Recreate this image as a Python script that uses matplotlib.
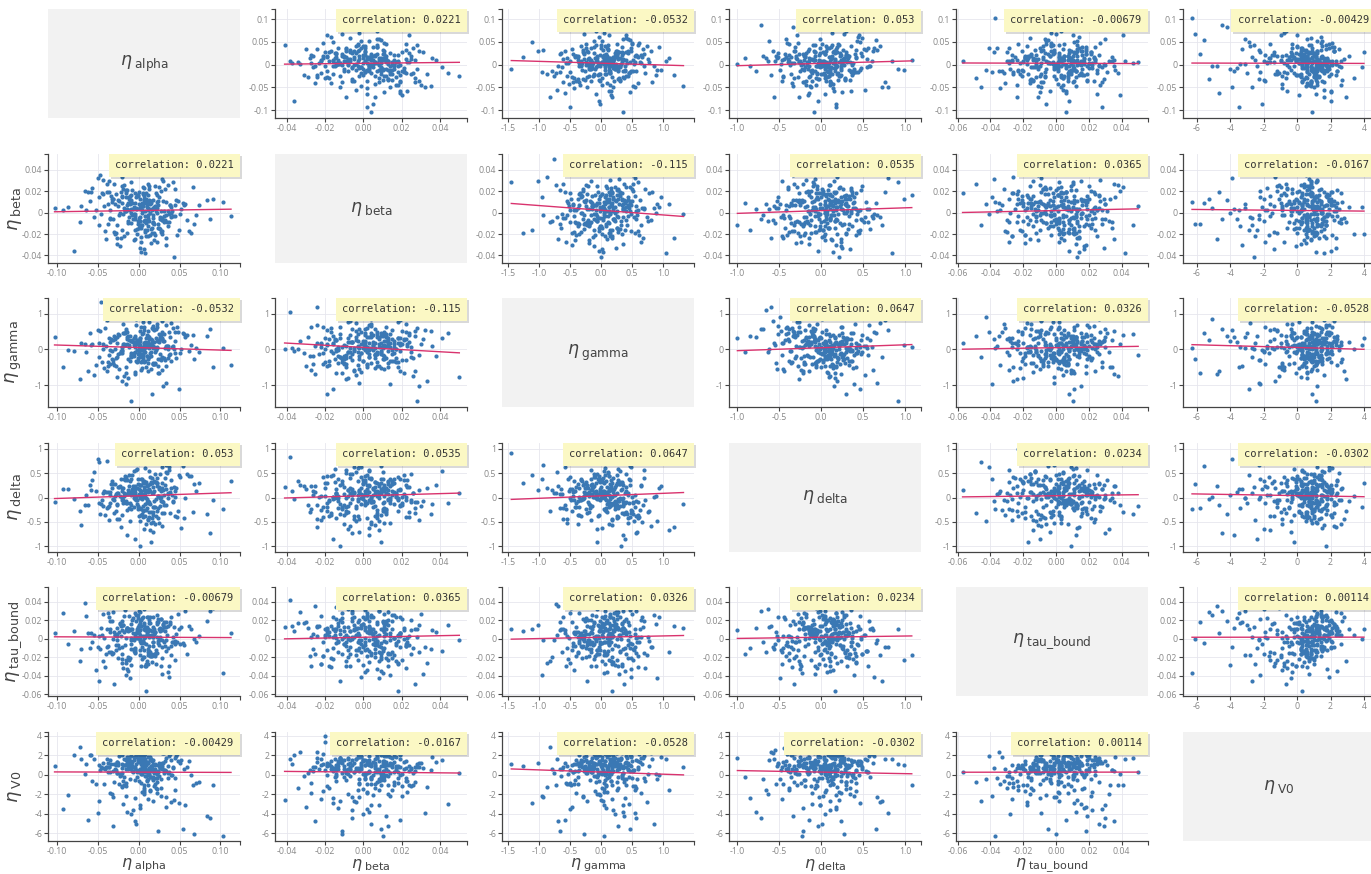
import numpy as np
import matplotlib
matplotlib.use("Agg")
import matplotlib.pyplot as plt
import matplotlib.patheffects as pe

plt.rcParams["font.family"] = ["Open Sans", "DejaVu Sans"]
plt.rcParams["mathtext.fontset"] = "dejavusans"

names = ["alpha", "beta", "gamma", "delta", "tau_bound", "V0"]

eta_alpha = [
    0.012, -0.031, 0.004, 0.047, -0.008, 0.021, -0.055, 0.002, 0.036, -0.017, 0.009, -0.042, 0.028, 0.061, -0.003, 0.015, -0.024, 0.033, -0.066, 0.007,
    -0.011, 0.019, 0.052, -0.037, 0.001, -0.019, 0.026, 0.083, -0.005, 0.014, -0.048, 0.039, -0.027, 0.006, 0.022, -0.072, 0.011, -0.002, 0.044, -0.014,
    0.031, -0.009, 0.003, -0.058, 0.017, 0.068, -0.021, 0.008, -0.035, 0.025, 0.000, -0.013, 0.049, -0.044, 0.018, 0.005, -0.029, 0.091, -0.006, 0.013,
    -0.086, 0.024, -0.016, 0.037, 0.010, -0.040, 0.057, -0.001, 0.029, -0.023, 0.016, -0.062, 0.004, 0.041, -0.010, 0.027, -0.033, 0.002, 0.074, -0.018,
    0.006, -0.052, 0.035, 0.013, -0.004, 0.020, -0.026, 0.045, -0.012, 0.003, 0.054, -0.038, 0.009, -0.079, 0.023, 0.015, -0.007, 0.032, -0.046, 0.011,
    0.001, 0.038, -0.020, 0.064, -0.015, 0.007, -0.034, 0.019, 0.103, -0.003, 0.026, -0.057, 0.012, -0.025, 0.043, 0.005, -0.039, 0.017, -0.009, 0.030,
    -0.103, 0.014, 0.048, -0.028, 0.008, -0.011, 0.034, -0.049, 0.021, 0.002, -0.018, 0.059, -0.006, 0.027, -0.041, 0.010, 0.070, -0.022, 0.004, -0.032,
    0.018, -0.002, 0.040, -0.064, 0.013, 0.025, -0.014, 0.006, -0.045, 0.033, 0.087, -0.010, 0.016, -0.030, 0.001, 0.051, -0.019, 0.009, -0.071, 0.022,
    -0.005, 0.029, -0.036, 0.011, 0.046, -0.023, 0.003, 0.066, -0.013, 0.019, -0.050, 0.008, 0.036, -0.001, -0.027, 0.014, 0.113, -0.044, 0.024, -0.008,
    0.010, -0.060, 0.020, 0.003, -0.016, 0.042, -0.035, 0.015, 0.028, -0.093, 0.005, 0.037, -0.021, 0.012, 0.056, -0.004, -0.012, 0.031, 0.000, -0.047,
    0.004, -0.012, 0.019, -0.003, 0.027, -0.021, 0.008, 0.001, -0.015, 0.032, -0.006, 0.013, -0.028, 0.002, 0.022, -0.009, 0.016, -0.035, 0.006, 0.011,
    -0.001, 0.024, -0.018, 0.009, 0.038, -0.004, -0.024, 0.014, 0.003, -0.011, 0.020, -0.032, 0.007, 0.029, -0.007, 0.000, 0.017, -0.014, 0.042, -0.020,
    0.012, -0.026, 0.005, 0.021, -0.002, -0.017, 0.030, 0.008, -0.039, 0.015, 0.002, -0.008, 0.025, -0.013, 0.010, 0.034, -0.022, 0.004, -0.005, 0.018,
    -0.030, 0.007, 0.026, -0.010, 0.013, -0.001, 0.045, -0.019, 0.003, 0.016, -0.033, 0.010, -0.006, 0.023, 0.001, -0.016, 0.008, 0.036, -0.025, 0.005,
    0.014, -0.004, -0.029, 0.020, 0.006, -0.012, 0.031, 0.000, -0.021, 0.011, 0.040, -0.009, 0.017, -0.036, 0.003, 0.024, -0.014, 0.009, -0.002, 0.028,
]

eta_beta = [
    -0.007, 0.013, 0.002, -0.021, 0.009, 0.018, -0.004, -0.013, 0.026, 0.001, -0.010, 0.006, 0.031, -0.017, 0.004, -0.028, 0.011, -0.002, 0.020, -0.008,
    0.015, -0.019, 0.003, 0.008, -0.033, 0.022, -0.006, 0.012, -0.001, 0.036, -0.012, 0.005, -0.024, 0.017, 0.000, -0.009, 0.027, -0.015, 0.007, 0.003,
    -0.003, 0.010, -0.027, 0.019, 0.004, -0.011, 0.014, -0.038, 0.002, 0.024, -0.005, 0.009, -0.016, 0.030, -0.002, 0.006, -0.020, 0.013, 0.041, -0.008,
    0.005, -0.014, 0.021, -0.001, 0.011, -0.025, 0.008, 0.016, -0.007, -0.031, 0.003, 0.019, -0.012, 0.001, 0.028, -0.018, 0.010, -0.004, 0.007, -0.022,
    0.012, 0.002, -0.009, 0.025, -0.016, 0.006, 0.050, -0.003, 0.014, -0.023, 0.009, -0.011, 0.018, -0.036, 0.004, 0.011, -0.006, 0.022, -0.001, 0.016,
    -0.013, 0.007, 0.033, -0.019, 0.001, -0.008, 0.015, -0.026, 0.010, 0.003, -0.015, 0.023, -0.005, 0.012, -0.041, 0.006, 0.019, -0.010, 0.000, 0.029,
    0.004, -0.021, 0.011, 0.017, -0.003, 0.008, -0.030, 0.014, 0.001, -0.012, 0.026, -0.007, 0.005, 0.020, -0.017, 0.038, -0.002, -0.024, 0.009, 0.013,
    -0.010, 0.016, -0.004, 0.002, 0.022, -0.014, 0.007, -0.034, 0.018, 0.010, -0.006, 0.003, -0.019, 0.027, 0.013, -0.001, 0.044, -0.009, 0.006, -0.027,
    0.009, -0.005, 0.019, -0.022, 0.012, 0.000, -0.013, 0.024, -0.008, 0.005, 0.032, -0.018, 0.001, 0.015, -0.029, 0.008, -0.003, 0.017, -0.011, 0.021,
    -0.016, 0.011, 0.004, -0.037, 0.014, 0.028, -0.006, 0.009, -0.020, 0.002, 0.018, -0.009, 0.025, -0.002, 0.007, -0.025, 0.013, 0.001, -0.014, 0.035,
    0.006, -0.004, -0.011, 0.014, 0.001, 0.009, -0.016, 0.003, 0.020, -0.007, -0.001, 0.012, -0.019, 0.005, 0.016, -0.010, 0.002, -0.005, 0.023, -0.013,
    -0.008, 0.011, 0.004, -0.022, 0.007, 0.018, -0.002, 0.000, -0.014, 0.010, 0.025, -0.006, 0.013, -0.017, 0.003, 0.008, -0.009, 0.021, -0.003, 0.015,
    0.002, -0.012, 0.017, 0.006, -0.020, 0.001, 0.011, -0.007, 0.027, -0.015, 0.004, -0.002, 0.014, -0.010, 0.008, -0.024, 0.019, 0.000, -0.006, 0.012,
    -0.018, 0.009, -0.004, 0.016, 0.003, -0.011, 0.022, -0.001, 0.007, -0.014, 0.013, 0.005, -0.026, 0.010, -0.008, 0.018, 0.001, -0.013, 0.006, 0.024,
    0.011, -0.003, 0.008, -0.021, 0.015, 0.002, -0.009, 0.019, -0.016, 0.004, 0.000, 0.012, -0.005, 0.029, -0.012, 0.007, -0.019, 0.013, 0.003, -0.007,
]

eta_gamma = [
    0.21, -0.38, 0.05, 0.62, -0.14, 0.33, -0.71, 0.08, -0.25, 0.47, 0.12, -0.52, 0.29, -0.03, 0.86, -0.19, 0.40, -0.94, 0.16, -0.07,
    -0.31, 0.55, 0.02, -0.45, 0.24, 0.71, -0.12, 0.37, -0.63, 0.10, -0.22, 0.93, 0.18, -0.36, 0.04, -0.83, 0.51, 0.27, -0.09, 0.35,
    0.44, -0.16, -0.57, 0.13, 0.66, -0.28, 0.07, 1.05, -0.41, 0.22, -0.05, 0.38, -1.12, 0.15, 0.58, -0.24, 0.01, -0.48, 0.31, 0.76,
    -0.02, 0.26, -0.67, 0.49, -0.18, 0.09, 0.35, -0.33, 0.80, -0.11, 0.19, -0.59, 0.42, 0.06, -1.45, 0.28, -0.26, 0.53, -0.08, 0.14,
    0.63, -0.44, 0.11, -0.21, 0.39, 0.03, -0.76, 0.25, 0.97, -0.13, 0.46, -0.35, 0.17, -0.04, 0.70, -0.55, 0.20, -0.29, 1.33, 0.08,
    -0.19, 0.34, -0.88, 0.12, 0.57, -0.06, 0.30, -0.42, 0.04, 0.69, -0.27, 0.16, -0.61, 0.43, 0.00, -0.15, 0.82, -0.37, 0.23, -1.02,
    0.36, -0.10, 0.50, -0.23, 0.07, 0.91, -0.47, 0.19, -0.01, 0.32, -0.73, 0.41, 0.13, -0.30, 0.60, -0.17, 0.05, 1.18, -0.53, 0.27,
    -0.40, 0.15, 0.74, -0.08, 0.28, -0.65, 0.48, 0.02, -0.34, 0.11, 0.56, -0.20, -1.26, 0.37, 0.09, -0.11, 0.45, -0.50, 0.18, 0.64,
    0.06, -0.58, 0.31, 0.17, -0.24, 0.89, -0.02, 0.40, -0.79, 0.22, 0.54, -0.32, 0.10, -0.14, 0.35, 1.10, -0.43, 0.01, -0.66, 0.26,
    0.14, 0.47, -0.37, 0.03, -0.96, 0.59, 0.21, -0.07, 0.33, -0.50, 0.78, -0.16, 0.08, -0.28, 0.44, -0.69, 0.12, 0.25, -0.04, 0.52,
    -0.15, 0.27, 0.08, -0.33, 0.41, -0.04, 0.18, -0.22, 0.52, 0.03, -0.09, 0.34, -0.47, 0.12, 0.25, -0.18, 0.60, -0.01, 0.09, -0.38,
    0.22, -0.27, 0.45, 0.06, -0.12, 0.31, -0.55, 0.15, 0.02, 0.38, -0.06, -0.29, 0.19, 0.49, -0.14, 0.07, -0.42, 0.28, 0.11, -0.02,
    0.35, -0.20, 0.01, 0.57, -0.35, 0.13, 0.24, -0.08, -0.61, 0.30, 0.05, -0.17, 0.43, -0.26, 0.16, 0.68, -0.05, -0.31, 0.21, 0.10,
    -0.44, 0.17, 0.36, -0.10, 0.04, -0.24, 0.50, 0.14, -0.36, 0.26, -0.03, 0.40, -0.19, 0.08, 0.32, -0.50, 0.20, 0.00, -0.13, 0.46,
    0.12, -0.07, 0.29, -0.40, 0.55, 0.07, -0.23, 0.18, -0.11, 0.37, -0.32, 0.23, 0.03, -0.16, 0.64, -0.46, 0.15, 0.33, -0.01, -0.21,
]

eta_delta = [
    -0.12, 0.28, 0.05, -0.41, 0.17, -0.03, 0.52, -0.22, 0.09, 0.36, -0.55, 0.14, -0.08, 0.44, 0.01, -0.30, 0.21, 0.67, -0.16, 0.03,
    0.33, -0.19, -0.62, 0.11, 0.25, -0.05, 0.48, -0.34, 0.07, -0.14, 0.72, 0.19, -0.45, 0.02, 0.30, -0.27, -0.09, 0.58, 0.13, -0.78,
    0.06, 0.39, -0.24, 0.15, -0.51, 0.27, 0.00, 0.84, -0.11, 0.22, -0.37, 0.10, 0.46, -0.18, -0.70, 0.31, 0.04, -0.06, 0.55, -0.29,
    0.18, -0.43, 0.08, 0.63, -0.21, 0.12, -0.01, 0.37, -0.58, 0.24, 0.41, -0.15, -0.33, 0.06, 0.92, -0.07, 0.20, -0.48, 0.29, 0.03,
    -0.26, 0.14, 0.51, -0.10, -0.85, 0.32, 0.09, -0.39, 0.23, 0.01, 0.65, -0.20, 0.16, -0.04, 0.40, -0.53, 0.11, 0.26, -0.13, 1.08,
    0.04, -0.31, 0.19, 0.45, -0.07, -0.64, 0.28, 0.13, -0.23, 0.57, -0.02, 0.35, -0.44, 0.09, 0.21, -0.17, 0.76, -0.36, 0.05, 0.15,
    -0.09, 0.42, -0.28, 0.07, 0.60, -0.49, 0.18, -0.12, 0.31, -1.00, 0.10, 0.49, -0.19, 0.02, -0.35, 0.26, 0.13, -0.60, 0.38, -0.04,
    0.22, -0.14, 0.70, 0.05, -0.40, 0.17, -0.25, 0.34, -0.06, 0.53, -0.72, 0.11, 0.29, -0.32, 0.08, 0.43, -0.11, 0.00, -0.56, 0.24,
    0.12, 0.62, -0.18, -0.47, 0.20, 0.04, 0.37, -0.29, 0.16, -0.08, 0.80, -0.38, 0.07, 0.27, -0.15, -0.66, 0.33, 0.10, -0.22, 0.47,
    -0.03, 0.25, -0.54, 0.14, 0.39, -0.10, 0.06, -0.91, 0.30, 0.18, -0.27, 0.56, -0.05, 0.12, -0.42, 0.23, 0.99, -0.16, 0.08, -0.34,
    0.08, -0.21, 0.33, -0.05, 0.14, -0.36, 0.02, 0.25, -0.12, 0.41, -0.02, 0.17, -0.28, 0.06, 0.30, -0.16, -0.42, 0.11, 0.21, -0.08,
    -0.17, 0.04, 0.38, -0.25, 0.12, 0.00, -0.45, 0.27, 0.09, -0.11, 0.49, -0.03, 0.16, -0.32, 0.23, 0.05, -0.19, 0.35, -0.07, 0.13,
    0.26, -0.13, 0.03, -0.39, 0.19, 0.44, -0.09, 0.10, -0.22, 0.32, -0.01, 0.15, -0.52, 0.07, 0.24, -0.15, 0.37, -0.04, 0.18, -0.30,
    -0.06, 0.29, -0.18, 0.11, 0.55, -0.24, 0.01, 0.20, -0.35, 0.09, 0.34, -0.10, 0.05, -0.27, 0.16, 0.42, -0.14, -0.01, 0.22, -0.40,
    0.13, -0.04, 0.28, -0.20, 0.06, 0.46, -0.31, 0.18, 0.02, -0.09, 0.36, -0.23, 0.10, -0.47, 0.25, 0.04, -0.12, 0.31, -0.06, 0.19,
]

eta_tau_bound = [
    0.008, -0.015, 0.022, -0.003, 0.011, -0.027, 0.004, 0.017, -0.010, 0.031, -0.006, 0.001, -0.038, 0.014, 0.026, -0.019, 0.007, -0.001, 0.039, -0.012,
    -0.021, 0.005, 0.013, -0.008, 0.029, -0.032, 0.002, 0.019, -0.014, 0.009, -0.046, 0.024, 0.003, -0.005, 0.016, -0.024, 0.035, 0.010, -0.002, 0.012,
    0.018, -0.011, -0.029, 0.006, 0.023, 0.000, -0.017, 0.042, 0.007, -0.007, 0.015, -0.035, 0.011, 0.027, -0.004, -0.020, 0.004, 0.033, -0.013, 0.002,
    -0.006, 0.021, 0.009, -0.041, 0.013, -0.016, 0.030, 0.001, -0.009, 0.017, -0.025, 0.006, 0.047, -0.003, 0.010, -0.030, 0.019, -0.012, 0.003, 0.025,
    0.011, -0.034, 0.004, 0.020, -0.010, 0.007, -0.001, -0.023, 0.036, 0.014, -0.005, 0.028, -0.057, 0.008, -0.015, 0.003, 0.022, -0.008, 0.012, -0.018,
    -0.002, 0.016, -0.026, 0.010, 0.001, 0.032, -0.014, 0.005, -0.037, 0.019, 0.008, -0.004, 0.024, -0.021, 0.013, 0.050, -0.009, 0.002, -0.028, 0.015,
    0.006, -0.019, 0.027, -0.007, 0.012, -0.043, 0.018, 0.003, -0.012, 0.009, 0.038, -0.016, 0.000, 0.021, -0.031, 0.007, -0.003, 0.014, -0.022, 0.029,
    0.013, 0.001, -0.018, 0.025, -0.008, 0.011, -0.033, 0.017, 0.004, -0.013, 0.030, -0.001, 0.008, -0.049, 0.020, -0.006, 0.015, 0.034, -0.011, 0.002,
    -0.015, 0.009, 0.023, -0.027, 0.005, 0.016, -0.004, 0.041, -0.020, 0.010, -0.009, 0.003, -0.036, 0.026, 0.012, -0.014, 0.006, -0.024, 0.018, 0.000,
    0.024, -0.010, 0.007, 0.014, -0.039, 0.002, 0.019, -0.017, 0.011, 0.028, -0.002, -0.029, 0.009, 0.004, -0.007, 0.035, -0.023, 0.013, 0.001, -0.011,
    -0.004, 0.010, -0.017, 0.006, 0.021, -0.009, 0.002, 0.014, -0.023, 0.008, -0.001, 0.017, -0.012, 0.004, 0.026, -0.006, -0.019, 0.011, 0.001, -0.014,
    0.013, -0.002, 0.007, -0.027, 0.018, 0.003, -0.010, 0.023, -0.005, 0.009, -0.016, 0.000, 0.015, -0.021, 0.006, 0.030, -0.008, 0.012, -0.003, 0.019,
    -0.011, 0.005, 0.024, -0.015, 0.002, -0.007, 0.016, -0.030, 0.010, 0.004, -0.018, 0.020, -0.001, 0.008, -0.024, 0.013, 0.003, -0.009, 0.028, -0.004,
    0.007, -0.020, 0.012, 0.001, -0.013, 0.022, -0.006, 0.015, -0.002, 0.034, -0.016, 0.005, -0.011, 0.018, 0.000, -0.026, 0.009, 0.014, -0.007, 0.003,
    0.017, -0.012, 0.004, -0.019, 0.011, 0.025, -0.003, 0.006, -0.022, 0.010, -0.008, 0.016, 0.002, -0.014, 0.020, -0.005, 0.012, -0.029, 0.008, -0.001,
]

eta_V0 = [
    1.2, 0.4, -1.8, 2.1, 0.9, -0.3, 1.6, -3.4, 0.2, 1.0, 2.6, -0.9, 0.7, 1.4, -5.1, 0.5, 1.9, -2.3, 0.1, 1.1,
    0.8, -1.2, 1.5, 0.3, 2.3, -0.6, 1.0, -4.2, 0.6, 1.8, -2.7, 0.0, 1.3, 0.9, -1.5, 2.9, 0.4, -0.2, 1.7, -3.8,
    0.5, 1.4, -0.8, 2.0, 1.1, -6.1, 0.2, 1.6, -1.9, 0.9, 0.3, 2.4, -2.9, 1.2, -0.4, 0.7, 3.4, -1.1, 1.5, 0.1,
    -2.1, 1.0, 0.6, 1.9, -0.5, 0.8, -3.1, 1.3, 2.2, -0.1, 0.4, -4.7, 1.7, 0.0, 1.1, -1.4, 2.7, 0.5, -0.7, 1.6,
    1.3, -0.9, 2.5, 0.7, -2.4, 1.0, 0.2, -1.6, 1.8, 0.6, -5.6, 1.2, 0.3, 2.0, -0.3, 0.9, -3.6, 1.4, 0.8, -1.0,
    0.6, 2.2, -1.3, 0.0, 1.5, -2.0, 1.1, 0.4, -6.3, 1.9, 0.7, -0.6, 2.8, 1.0, -2.6, 0.3, 1.6, -0.2, -4.0, 1.2,
    0.9, -1.7, 1.4, 0.5, 2.1, -0.4, -3.3, 1.0, 0.2, 1.7, -1.1, 0.8, 3.9, -2.2, 0.6, 1.3, -0.8, 2.3, 0.1, -5.3,
    1.5, 0.3, -2.8, 1.1, 0.7, -0.1, 1.8, -1.4, 2.6, 0.4, -4.5, 1.0, 0.9, -0.7, 2.0, 1.2, -3.0, 0.5, 1.6, -1.9,
    -0.5, 1.2, 0.8, -2.5, 1.9, 0.1, 1.4, -1.0, 0.6, 3.1, -3.9, 1.0, -0.3, 1.7, 0.2, -1.6, 2.4, 0.7, -5.8, 1.3,
    0.4, 2.0, -0.9, 1.1, -2.2, 0.8, 1.5, -0.2, 4.0, -3.5, 0.9, 0.3, -1.2, 1.8, 0.6, -4.8, 1.0, 2.2, -0.6, 0.5,
    0.9, 1.6, 0.2, 1.1, -0.4, 2.0, 0.7, 1.3, -1.2, 0.5, 1.8, 0.0, 1.0, 2.3, -0.7, 0.6, 1.4, 0.3, -1.8, 1.2,
    1.7, 0.4, -0.2, 1.0, 2.1, 0.8, -0.9, 1.5, 0.1, 1.2, 0.6, -2.3, 1.9, 0.9, 0.3, 1.4, -0.5, 2.4, 0.7, 1.1,
    0.2, 1.3, 1.8, -1.4, 0.5, 1.0, 2.2, -0.1, 0.8, 1.6, -3.1, 0.4, 1.2, 0.9, -0.6, 1.7, 0.0, 1.4, 2.6, 0.6,
    1.1, -1.0, 0.7, 1.9, 0.3, 1.5, -0.3, 1.0, 2.0, 0.5, -2.0, 1.3, 0.8, 0.1, 1.6, -0.8, 2.3, 0.9, 1.2, 0.4,
    -0.2, 1.8, 0.6, 1.1, -1.6, 1.4, 0.2, 2.1, 0.7, -0.4, 1.5, 1.0, -2.7, 0.8, 1.7, 0.3, 1.2, -0.1, 2.5, 0.6,
]

data = [np.array(v) for v in [eta_alpha, eta_beta, eta_gamma, eta_delta, eta_tau_bound, eta_V0]]

# correlations printed in the boxes
corr_values = [
    [1.0, 0.0221, -0.0532, 0.053, -0.00679, -0.00429],
    [0.0221, 1.0, -0.115, 0.0535, 0.0365, -0.0167],
    [-0.0532, -0.115, 1.0, 0.0647, 0.0326, -0.0528],
    [0.053, 0.0535, 0.0647, 1.0, 0.0234, -0.0302],
    [-0.00679, 0.0365, 0.0326, 0.0234, 1.0, 0.00114],
    [-0.00429, -0.0167, -0.0528, -0.0302, 0.00114, 1.0],
]

x_ticks = [
    ([-0.1, -0.05, 0, 0.05, 0.1], ["-0.10", "-0.05", "0.00", "0.05", "0.10"]),
    ([-0.04, -0.02, 0, 0.02, 0.04], ["-0.04", "-0.02", "0.00", "0.02", "0.04"]),
    ([-1.5, -1, -0.5, 0, 0.5, 1], ["-1.5", "-1.0", "-0.5", "0.0", "0.5", "1.0"]),
    ([-1, -0.5, 0, 0.5, 1], ["-1.0", "-0.5", "0.0", "0.5", "1.0"]),
    ([-0.06, -0.04, -0.02, 0, 0.02, 0.04], ["-0.06", "-0.04", "-0.02", "0.00", "0.02", "0.04"]),
    ([-6, -4, -2, 0, 2, 4], ["-6", "-4", "-2", "0", "2", "4"]),
]
y_ticks = [
    ([-0.1, -0.05, 0, 0.05, 0.1], ["-0.1", "-0.05", "0", "0.05", "0.1"]),
    ([-0.04, -0.02, 0, 0.02, 0.04], ["-0.04", "-0.02", "0", "0.02", "0.04"]),
    ([-1, 0, 1], ["-1", "0", "1"]),
    ([-1, -0.5, 0, 0.5, 1], ["-1", "-0.5", "0", "0.5", "1"]),
    ([-0.06, -0.04, -0.02, 0, 0.02, 0.04], ["-0.06", "-0.04", "-0.02", "0", "0.02", "0.04"]),
    ([-6, -4, -2, 0, 2, 4], ["-6", "-4", "-2", "0", "2", "4"]),
]
x_lims = [(-0.111, 0.124), (-0.046, 0.054), (-1.6, 1.5), (-1.1, 1.19), (-0.061, 0.056), (-6.84, 4.66)]
y_lims = [(-0.117, 0.122), (-0.047, 0.0545), (-1.61, 1.44), (-1.12, 1.12), (-0.062, 0.056), (-6.82, 4.41)]

W, H = 1371, 874
col_left = [48, 275, 502, 729, 956, 1183]
row_top = [9, 154, 298, 443, 587, 732]
cw, ch = 192, 109

fig = plt.figure(figsize=(W / 100, H / 100), dpi=100)

def eta_label(name):
    return r"$\eta_{\;\mathrm{%s}}$" % name.replace("_", r"\_")

for i in range(6):
    for j in range(6):
        ax = fig.add_axes([col_left[j] / W, 1 - (row_top[i] + ch) / H, cw / W, ch / H])
        if i == j:
            ax.set_facecolor("#f2f2f2")
            ax.set_xticks([])
            ax.set_yticks([])
            for s in ax.spines.values():
                s.set_visible(False)
            ax.text(0.5, 0.5, eta_label(names[i]), ha="center", va="center", fontsize=12.5,
                    color="#444444", transform=ax.transAxes)
            continue

        x = data[j]
        y = data[i]
        ax.scatter(x, y, s=9, color="#3a78b4", linewidths=0, zorder=3)

        # fitted line from the printed correlation
        r = corr_values[i][j]
        xs = np.array([x.min(), x.max()])
        ys = y.mean() + r * y.std() / x.std() * (xs - x.mean())
        ax.plot(xs, ys, color="#d9336e", lw=1.0, zorder=4)

        ax.set_xlim(x_lims[j])
        ax.set_ylim(y_lims[i])
        ax.set_xticks(x_ticks[j][0])
        ax.set_xticklabels(x_ticks[j][1])
        ax.set_yticks(y_ticks[i][0])
        ax.set_yticklabels(y_ticks[i][1])
        ax.set_xticks([x_lims[j][1]], minor=True)
        ax.set_yticks([y_lims[i][1]], minor=True)
        ax.grid(True, color="#e6e6ee", lw=0.6, zorder=0)
        ax.set_axisbelow(True)
        for s in ["top", "right"]:
            ax.spines[s].set_visible(False)
        for s in ["left", "bottom"]:
            ax.spines[s].set_color("#444444")
            ax.spines[s].set_linewidth(0.9)
        ax.tick_params(which="both", length=3, width=0.8, color="#444444",
                       labelsize=6.3, labelcolor="#888888", pad=1.2)

        box = ax.annotate("correlation: %.3g" % r, xy=(1, 1), xycoords="axes fraction",
                          xytext=(-4.5, -4.5), textcoords="offset points", ha="right", va="top",
                          fontsize=7.5, family="DejaVu Sans Mono", color="#333333",
                          bbox=dict(boxstyle="square,pad=0.6", fc="#fbf8c4", ec="none"),
                          zorder=6, annotation_clip=False)
        box.get_bbox_patch().set_path_effects(
            [pe.SimplePatchShadow(offset=(1.5, -1.5), shadow_rgbFace="#000000", alpha=0.15),
             pe.Normal()])

        if j == 0:
            ax.set_ylabel(eta_label(names[i]), fontsize=13, color="#444444")
            ax.yaxis.set_label_coords(-0.125, 0.5)
        if i == 5:
            ax.set_xlabel(eta_label(names[j]), fontsize=11.5, color="#444444")
            ax.xaxis.set_label_coords(0.5, -0.145)

fig.savefig("out.png", dpi=100)
